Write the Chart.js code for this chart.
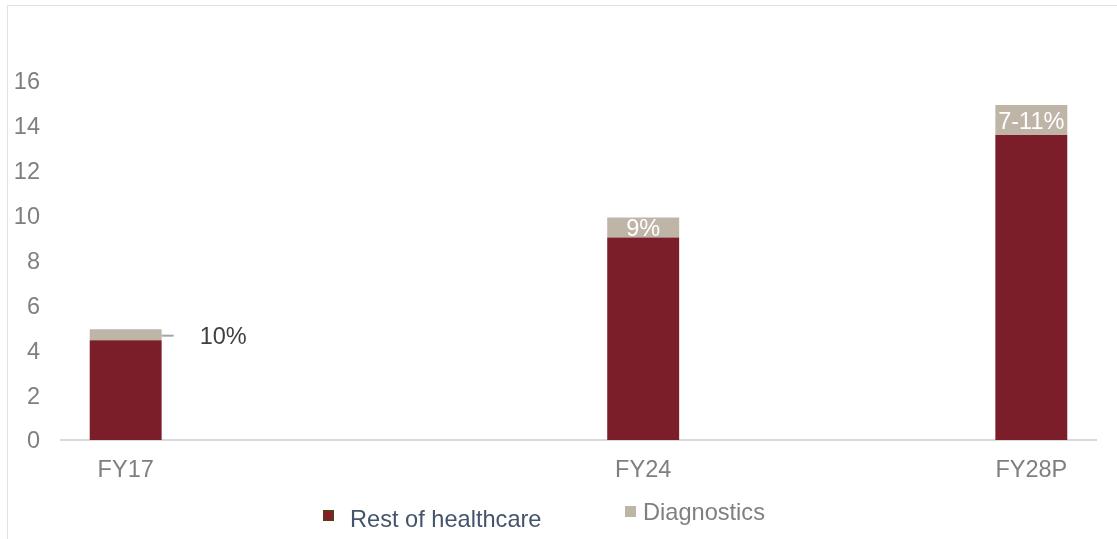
<!DOCTYPE html>
<html>
<head>
<meta charset="utf-8">
<script src="https://cdn.jsdelivr.net/npm/chart.js@4"></script>
<style>
  html,body{margin:0;padding:0;background:#fff;overflow:hidden;}
  #wrap{position:relative;width:1117px;height:539px;}
  #frame{position:absolute;left:7px;top:5px;width:1200px;height:600px;border:1.5px solid #e2e2e2;box-sizing:border-box;}
  #c{position:absolute;left:0;top:0;}
  .leg{position:absolute;font-family:"Liberation Sans",Arial,sans-serif;font-size:23.6px;white-space:nowrap;line-height:1;}
  .sw{position:absolute;width:11px;height:11px;box-sizing:border-box;}
</style>
</head>
<body>
<div id="wrap">
  <div id="frame"></div>
  <canvas id="c" width="1117" height="539"></canvas>
  <div id="legend"></div>
</div>
<script>
// ---- data ----
const categories = ['FY17', '', '', '', 'FY24', '', '', 'FY28P'];
const restOfHealthcare = [4.45, null, null, null, 9.03, null, null, 13.59];
const diagnostics = [0.49, null, null, null, 0.89, null, null, 1.34];
const shareLabels = ['10%', '', '', '', '9%', '', '', '7-11%'];
const seriesNames = ['Rest of healthcare', 'Diagnostics'];
const yTicks = [0, 2, 4, 6, 8, 10, 12, 14, 16];

const FONT = '"Liberation Sans", Arial, sans-serif';
const colors = ['#7b1e2a', '#bfb5a7'];

const segLabels = {
  id: 'segLabels',
  afterDatasetsDraw(chart) {
    const ctx = chart.ctx;
    const meta = chart.getDatasetMeta(1);
    meta.data.forEach((bar, i) => {
      const t = shareLabels[i];
      if (!t || diagnostics[i] == null) return;
      const top = Math.min(bar.y, bar.base), bot = Math.max(bar.y, bar.base);
      const mid = (top + bot) / 2;
      ctx.save();
      ctx.font = '23.5px ' + FONT;
      ctx.textBaseline = 'middle';
      if (bot - top >= 18) {
        ctx.fillStyle = '#ffffff';
        ctx.textAlign = 'center';
        ctx.fillText(t, bar.x, mid + 2);
      } else {
        const right = bar.x + bar.width / 2;
        ctx.strokeStyle = '#a6a6a6';
        ctx.lineWidth = 2;
        ctx.beginPath();
        ctx.moveTo(right, mid + 1);
        ctx.lineTo(right + 12, mid + 1);
        ctx.stroke();
        ctx.fillStyle = '#404040';
        ctx.textAlign = 'left';
        ctx.fillText(t, right + 38, mid + 3);
      }
      ctx.restore();
    });
  }
};

new Chart(document.getElementById('c'), {
  type: 'bar',
  data: {
    labels: categories,
    datasets: [
      { label: seriesNames[0], data: restOfHealthcare, backgroundColor: colors[0], borderWidth: 0 },
      { label: seriesNames[1], data: diagnostics, backgroundColor: colors[1], borderWidth: 0 }
    ]
  },
  options: {
    responsive: false,
    animation: false,
    devicePixelRatio: 1,
    layout: { padding: { left: 0, right: 21, top: 81, bottom: 0 } },
    plugins: { legend: { display: false }, tooltip: { enabled: false } },
    datasets: { bar: { barPercentage: 0.556, categoryPercentage: 1 } },
    scales: {
      x: {
        stacked: true,
        grid: { display: false, drawTicks: false },
        border: { display: true, color: '#d9d9d9', width: 2 },
        ticks: { color: '#7f7f7f', font: { family: FONT, size: 23.5 }, padding: 16, autoSkip: false, maxRotation: 0 },
        afterFit(s) { s.height = 99; }
      },
      y: {
        stacked: true,
        min: 0, max: 16,
        afterBuildTicks(s) { s.ticks = yTicks.map(v => ({ value: v })); },
        grid: { display: false, drawTicks: false },
        border: { display: false },
        ticks: { color: '#7f7f7f', font: { family: FONT, size: 23.5 }, padding: 21, labelOffset: 2 },
        afterFit(s) { s.width = 61; }
      }
    }
  },
  plugins: [segLabels]
});

// HTML legend
const leg = document.getElementById('legend');
const legSpec = [
  { sw: { left: 323, top: 510, bg: '#8b1a2a', border: '2px solid #5a3a1a' }, text: { left: 350, top: 508, color: '#44546a' } },
  { sw: { left: 625, top: 506, bg: colors[1], border: 'none' }, text: { left: 643, top: 501, color: '#7f7f7f' } }
];
seriesNames.forEach((n, i) => {
  const s = legSpec[i];
  const sw = document.createElement('div');
  sw.className = 'sw';
  sw.style.left = s.sw.left + 'px'; sw.style.top = s.sw.top + 'px';
  sw.style.background = s.sw.bg; sw.style.border = s.sw.border;
  leg.appendChild(sw);
  const tx = document.createElement('div');
  tx.className = 'leg';
  tx.style.left = s.text.left + 'px'; tx.style.top = s.text.top + 'px';
  tx.style.color = s.text.color;
  tx.textContent = n;
  leg.appendChild(tx);
});
</script>
</body>
</html>
